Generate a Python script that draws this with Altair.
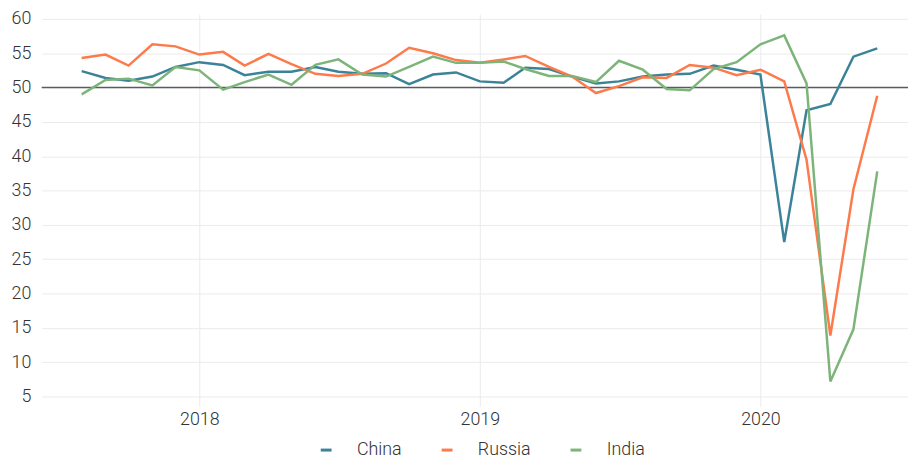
import altair as alt
import pandas as pd

months = [d.strftime("%Y-%m-01") for d in pd.date_range("2017-08-01", "2020-06-01", freq="MS")]

china = [52.4, 51.4, 51.0, 51.6, 53.0, 53.7, 53.3, 51.8, 52.3, 52.3, 53.0, 52.3,
         52.0, 52.1, 50.5, 51.9, 52.2, 50.9, 50.7, 52.9, 52.7, 51.6, 50.6, 50.9,
         51.6, 51.9, 52.0, 53.2, 52.6, 51.9, 27.5, 46.7, 47.6, 54.5, 55.7]
russia = [54.3, 54.8, 53.2, 56.3, 56.0, 54.8, 55.2, 53.2, 54.9, 53.4, 52.0, 51.7,
          52.0, 53.5, 55.8, 55.0, 54.0, 53.6, 54.1, 54.6, 53.0, 51.6, 49.2, 50.2,
          51.5, 51.4, 53.3, 52.9, 51.8, 52.6, 50.9, 39.5, 13.9, 35.2, 48.8]
india = [49.0, 51.1, 51.3, 50.3, 53.0, 52.5, 49.7, 50.8, 51.9, 50.4, 53.3, 54.1,
         51.9, 51.6, 53.0, 54.5, 53.6, 53.6, 53.8, 52.7, 51.7, 51.7, 50.8, 53.9,
         52.6, 49.8, 49.6, 52.7, 53.7, 56.3, 57.6, 50.6, 7.2, 14.8, 37.8]

series = ["China", "Russia", "India"]
colors = ["#3b8399", "#fd7b4b", "#7db47a"]
y_ticks = [5, 10, 15, 20, 25, 30, 35, 40, 45, 50, 55, 60]
year_ticks = [2018, 2019, 2020]
reference = [50]

rows = []
for name, vals in zip(series, [china, russia, india]):
    for m, v in zip(months, vals):
        rows.append({"date": m, "value": v, "country": name})
df = pd.DataFrame(rows)

FONT = "Roboto"
x_scale = alt.Scale(type="utc", domain=["2017-06-10", "2020-07-11"])
y_scale = alt.Scale(domain=[3.56, 60.72], nice=False, zero=False)
y_axis = alt.Axis(title=None, values=y_ticks, domain=False, ticks=False,
                  labelOverlap=False, labelPadding=11,
                  gridColor="#ebebeb", gridWidth=1)

lines = alt.Chart(df).mark_line(strokeWidth=2.5).encode(
    x=alt.X("date:T", scale=x_scale,
            axis=alt.Axis(title=None, format="%Y", formatType="utc",
                          values=[alt.DateTime(year=y, month=1, date=1, utc=True) for y in year_ticks],
                          domain=False, ticks=False, labelPadding=4, labelOverlap=False,
                          gridColor="#ebebeb", gridWidth=1)),
    y=alt.Y("value:Q", scale=y_scale, axis=y_axis),
    color=alt.Color("country:N", sort=series,
                    scale=alt.Scale(domain=series, range=colors),
                    legend=alt.Legend(title=None, orient="none", direction="horizontal",
                                      legendX=278, legendY=431,
                                      symbolType="stroke", symbolSize=120,
                                      symbolStrokeWidth=3, labelOffset=22,
                                      columnPadding=33)),
)

rule = alt.Chart(pd.DataFrame({"y": reference})).mark_rule(
    color="#545c64", strokeWidth=1.5
).encode(y=alt.Y("y:Q", scale=y_scale, axis=y_axis))

chart = alt.layer(rule, lines).properties(
    width=874, height=396,
    autosize=alt.AutoSizeParams(type="none"),
    padding={"left": 34, "top": 4, "right": 0, "bottom": 51},
).configure_view(stroke=None).configure_axis(
    labelFont=FONT, labelFontSize=18, labelFontWeight=300, labelColor="#333333",
    labelOverlap=False
).configure_legend(
    labelFont=FONT, labelFontSize=18, labelFontWeight=300, labelColor="#333333"
)

chart.save("out.html", embed_options={"renderer": "svg", "actions": False})
